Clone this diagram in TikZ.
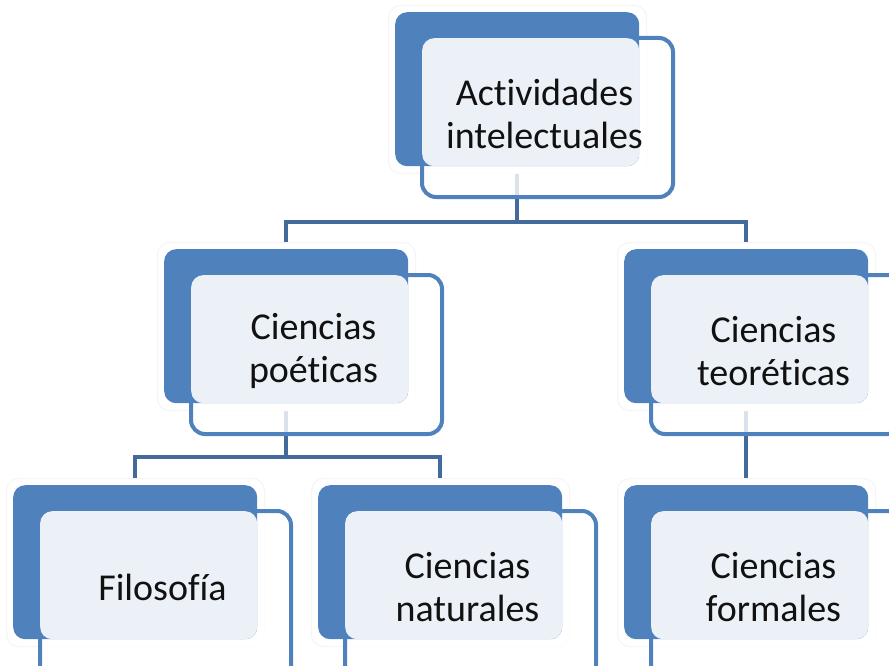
\documentclass[tikz,border=0pt]{standalone}
\usepackage{fontspec}
\setmainfont{Carlito}[Ligatures={NoCommon,NoContextual}]
\usetikzlibrary{backgrounds}
\definecolor{boxblue}{RGB}{79,129,189}
\definecolor{connblue}{RGB}{66,106,157}
\definecolor{panelblue}{RGB}{236,241,248}
\definecolor{txt}{RGB}{17,17,17}
\tikzset{
  halo/.style={draw=black!4, line width=1pt, fill=white, rounded corners=12pt,
    minimum width=258pt, minimum height=168pt, anchor=north west, inner sep=0pt},
  frame/.style={draw=boxblue, line width=4pt, fill=white, fill opacity=0.8,
    rounded corners=14pt, minimum width=251pt, minimum height=159pt,
    anchor=north west, inner sep=0pt},
  backbox/.style={fill=boxblue, rounded corners=12pt, minimum width=244pt,
    minimum height=154pt, anchor=north west, inner sep=0pt},
  panel/.style={fill=panelblue, rounded corners=12pt, minimum width=217pt,
    minimum height=128pt, anchor=north west, inner sep=0pt},
  label/.style={text=txt, align=center, font=\fontsize{38}{43}\selectfont},
  conn/.style={draw=connblue, line width=4pt}
}
\newcommand\diabox[5][]{%
  \node[halo] (#2-h) at (#3-7,#4-7) {};
  \node[frame,#1] (#2-f) at (#3+25,#4+24) {};
  \node[backbox] (#2-b) at (#3,#4) {};
  \node[panel] (#2-p) at (#3+27,#4+26) {};
  \node[label] (#2-t) at (#3+149.5,#4+102) {#5};
}
\begin{document}
\begin{tikzpicture}[x=1pt,y=-1pt]
\useasboundingbox (0,0) rectangle (889,666);
\clip (0,0) rectangle (889,666);
\diabox{top}{395}{12}{Actividades\\intelectuales}
\diabox{poe}{164}{249}{Ciencias\\poéticas}
\diabox{teo}{624}{249}{Ciencias\\teoréticas}
\diabox[minimum height=175pt]{fil}{13}{485}{Filosofía}
\diabox[minimum height=175pt]{nat}{318}{485}{Ciencias\\naturales}
\diabox[minimum height=175pt]{for}{624}{485}{Ciencias\\formales}
\coordinate (j1) at (517,222);
\coordinate (j2) at (286,457);
\begin{pgfonlayer}{background}
  \fill[white] (0,0) rectangle (889,666);
  \draw[conn] (top-b.center) -- (top-b.center |- j1) -| (poe-b.center);
  \draw[conn] (top-b.center |- j1) -| (teo-b.center);
  \draw[conn] (poe-b.center) -- (poe-b.center |- j2) -| (fil-b.center);
  \draw[conn] (poe-b.center |- j2) -| (nat-b.center);
  \draw[conn] (teo-b.center) -- (for-b.center);
\end{pgfonlayer}
\end{tikzpicture}
\end{document}
